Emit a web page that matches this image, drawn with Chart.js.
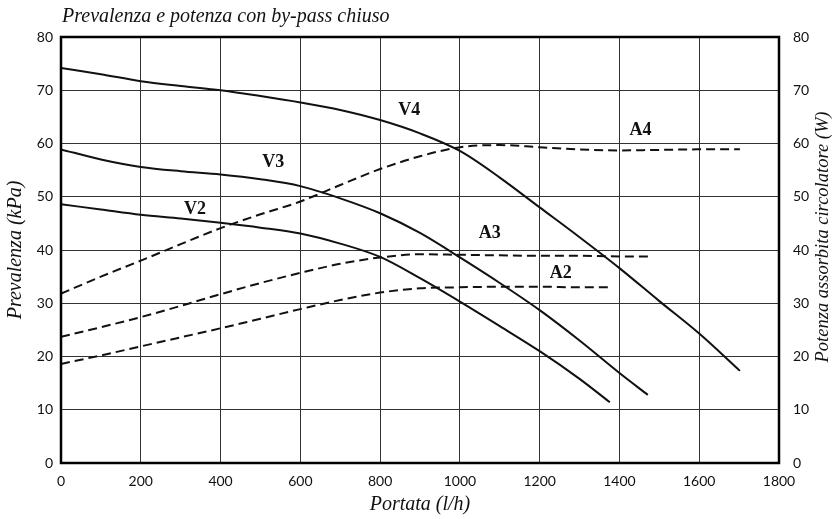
<!DOCTYPE html>
<html>
<head>
<meta charset="utf-8">
<script src="https://cdn.jsdelivr.net/npm/chart.js@4.4.1/dist/chart.umd.min.js"></script>
<style>
  html, body { margin: 0; padding: 0; background: #fff; }
  #wrap { width: 839px; height: 519px; }
</style>
</head>
<body>
<div id="wrap"><canvas id="myChart" width="839" height="519"></canvas></div>
<script>
// portata (l/h) and prevalenza / potenza values
var v2_x = [0, 100, 200, 300, 400, 500, 600, 700, 800, 900, 1000, 1100, 1200, 1300, 1376];
var v2_y = [48.6, 47.6, 46.6, 45.9, 45.1, 44.2, 43.1, 41.2, 38.7, 34.7, 30.3, 25.7, 21, 15.8, 11.4];

var v3_x = [0, 100, 200, 300, 400, 500, 600, 700, 800, 900, 1000, 1100, 1200, 1300, 1400, 1471];
var v3_y = [58.9, 57, 55.6, 54.8, 54.2, 53.3, 52, 49.7, 46.9, 43.2, 38.6, 33.8, 28.7, 23, 16.9, 12.8];

var v4_x = [0, 100, 200, 300, 400, 500, 600, 700, 800, 900, 1000, 1100, 1200, 1300, 1400, 1500, 1600, 1702];
var v4_y = [74.2, 73, 71.7, 70.8, 70, 68.9, 67.7, 66.3, 64.4, 61.9, 58.6, 53.6, 48, 42.4, 36.6, 30.4, 24.3, 17.3];

var a2_x = [0, 100, 200, 300, 400, 500, 600, 700, 800, 900, 1000, 1100, 1200, 1300, 1378];
var a2_y = [18.6, 20.2, 21.9, 23.6, 25.3, 27.1, 28.9, 30.6, 32, 32.8, 33, 33.1, 33.1, 33, 33];

var a3_x = [0, 100, 200, 300, 400, 500, 600, 700, 800, 900, 1000, 1100, 1200, 1300, 1400, 1472];
var a3_y = [23.7, 25.5, 27.4, 29.5, 31.7, 33.8, 35.7, 37.4, 38.6, 39.2, 39.1, 39, 38.9, 38.9, 38.8, 38.8];

var a4_x = [0, 100, 200, 300, 400, 500, 600, 700, 800, 900, 1000, 1100, 1200, 1300, 1400, 1500, 1600, 1702];
var a4_y = [31.8, 35, 38, 41.1, 44.1, 46.7, 49.1, 52.2, 55.2, 57.6, 59.3, 59.7, 59.3, 58.9, 58.7, 58.8, 58.9, 58.9];

// curve names and where they are written (data units)
var curve_names = ['V4', 'V3', 'V2', 'A4', 'A3', 'A2'];
var name_x = [873, 532, 336, 1453, 1075, 1253];
var name_y = [66.2, 56.4, 47.6, 62.5, 43.2, 35.6];

var title_text = 'Prevalenza e potenza con by-pass chiuso';
var x_title = 'Portata (l/h)';
var y_title = 'Prevalenza (kPa)';
var y2_title = 'Potenza assorbita circolatore (W)';

function pts(xs, ys) {
  var out = [];
  for (var i = 0; i < xs.length; i++) out.push({x: xs[i], y: ys[i]});
  return out;
}

function curve(name, xs, ys, dashed) {
  return {
    label: name,
    data: pts(xs, ys),
    borderColor: '#111',
    borderWidth: 2,
    borderDash: dashed ? [9, 5] : [],
    pointRadius: 0,
    fill: false,
    cubicInterpolationMode: 'monotone'
  };
}

var serif = '"Liberation Serif", "DejaVu Serif", serif';
var sans = 'Lato, "Open Sans", sans-serif';

function plain(v) { return String(v); }

// frame, curve names and titles
var extras = {
  id: 'extras',
  afterDraw: function(chart) {
    var ctx = chart.ctx;
    var a = chart.chartArea;
    var xs = chart.scales.x, ys = chart.scales.y;
    var mid = (a.top + a.bottom) / 2;
    ctx.save();
    ctx.strokeStyle = '#000';
    ctx.lineWidth = 2.5;
    ctx.strokeRect(a.left, a.top, a.right - a.left, a.bottom - a.top);

    ctx.fillStyle = '#111';
    ctx.font = 'bold 18px ' + serif;
    ctx.textAlign = 'center';
    ctx.textBaseline = 'middle';
    for (var i = 0; i < curve_names.length; i++) {
      ctx.fillText(curve_names[i], xs.getPixelForValue(name_x[i]), ys.getPixelForValue(name_y[i]));
    }

    ctx.font = 'italic 20px ' + serif;
    ctx.textAlign = 'left';
    ctx.fillText(title_text, a.left + 1, 17);

    ctx.textAlign = 'center';
    ctx.fillText(x_title, (a.left + a.right) / 2, 505);

    ctx.translate(16, mid);
    ctx.rotate(-Math.PI / 2);
    ctx.fillText(y_title, 0, 0);
    ctx.restore();

    ctx.save();
    ctx.fillStyle = '#111';
    ctx.font = 'italic 18.5px ' + serif;
    ctx.textAlign = 'center';
    ctx.textBaseline = 'middle';
    ctx.translate(823, mid - 13);
    ctx.rotate(-Math.PI / 2);
    ctx.fillText(y2_title, 0, 0);
    ctx.restore();
  }
};

var ctx = document.getElementById('myChart').getContext('2d');
var myChart = new Chart(ctx, {
  type: 'line',
  data: {
    datasets: [
      curve('V2', v2_x, v2_y, false),
      curve('V3', v3_x, v3_y, false),
      curve('V4', v4_x, v4_y, false),
      curve('A2', a2_x, a2_y, true),
      curve('A3', a3_x, a3_y, true),
      curve('A4', a4_x, a4_y, true)
    ]
  },
  options: {
    responsive: false,
    animation: false,
    layout: { padding: { top: 37, left: 0, right: 0, bottom: 0 } },
    plugins: {
      legend: { display: false },
      tooltip: { enabled: false }
    },
    scales: {
      x: {
        type: 'linear',
        min: 0, max: 1800,
        ticks: { stepSize: 200, color: '#111', font: { family: sans, size: 14 }, padding: 10, maxRotation: 0, callback: plain },
        grid: { color: '#333', lineWidth: 1, drawTicks: false },
        border: { display: false },
        afterFit: function(s) { s.height = 56; }
      },
      y: {
        position: 'left',
        min: 0, max: 80,
        ticks: { stepSize: 10, color: '#111', font: { family: sans, size: 14 }, padding: 8, callback: plain },
        grid: { color: '#333', lineWidth: 1, drawTicks: false },
        border: { display: false },
        afterFit: function(s) { s.width = 61; }
      },
      y2: {
        position: 'right',
        min: 0, max: 80,
        ticks: { stepSize: 10, color: '#111', font: { family: sans, size: 14 }, padding: 14, callback: plain },
        grid: { display: false, drawTicks: false },
        border: { display: false },
        afterFit: function(s) { s.width = 60; }
      }
    }
  },
  plugins: [extras]
});
</script>
</body>
</html>
